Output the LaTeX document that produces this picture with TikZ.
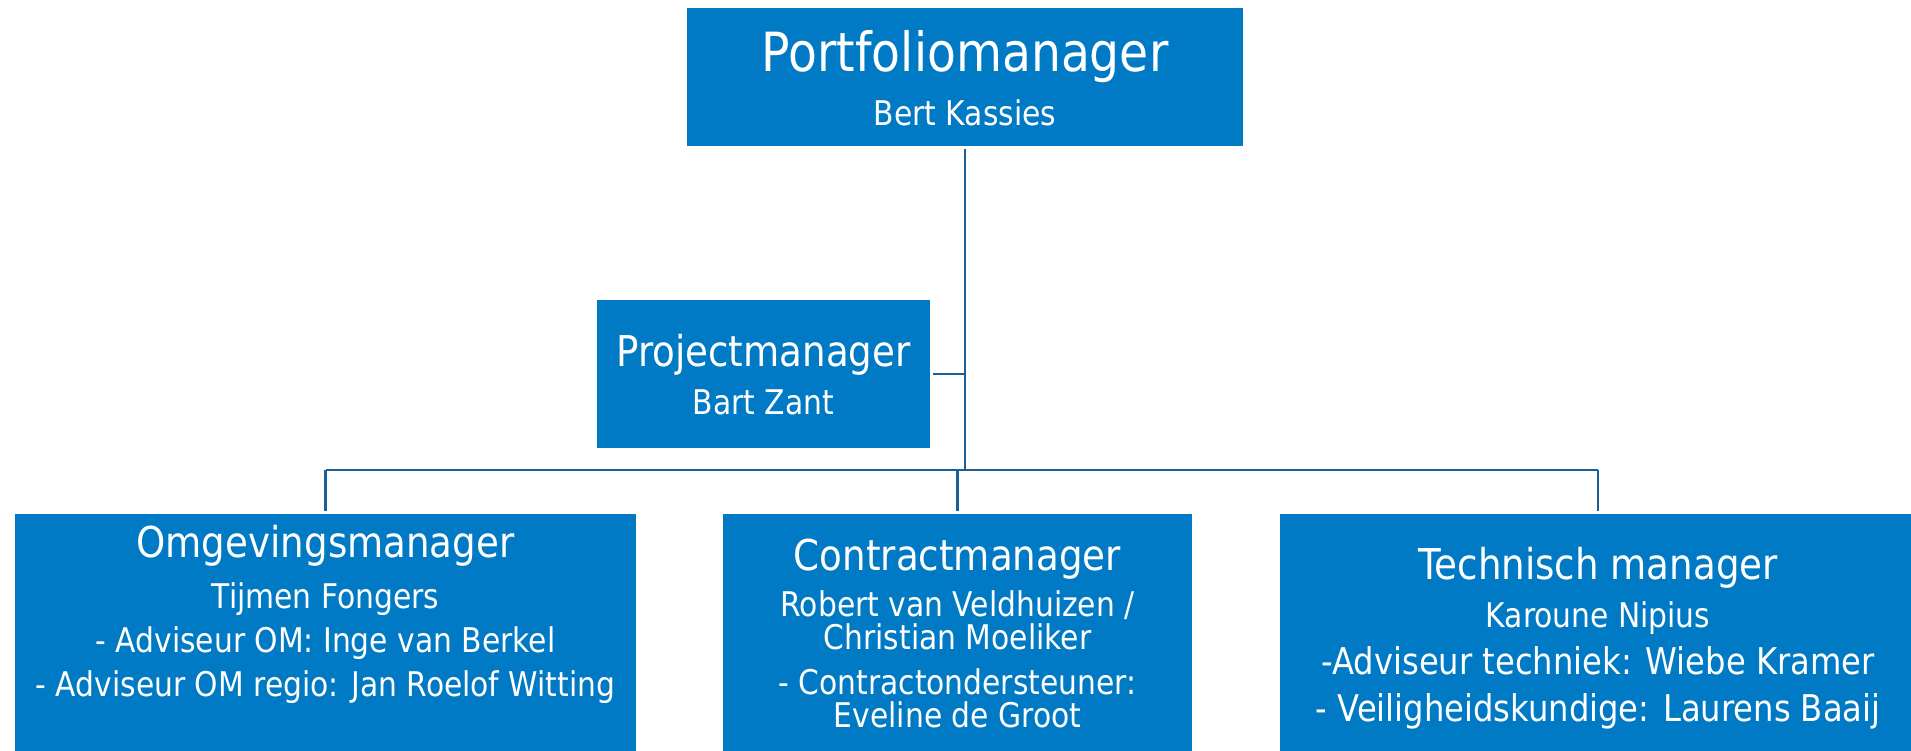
\documentclass[tikz,border=0pt]{standalone}
\usepackage{fontspec}
\setmainfont{DejaVu Sans}[FakeStretch=0.875]
\usepackage{tikz}
\usetikzlibrary{positioning}
\definecolor{BoxBlue}{HTML}{007AC4}
\definecolor{LineBlue}{HTML}{1A5F96}

\begin{document}
\begin{tikzpicture}[x=1pt,y=-1pt,
    orgbox/.style={fill=BoxBlue,draw=none,inner sep=0pt,outer sep=3pt},
    rolename/.style={text=white,inner sep=0pt,anchor=base,align=center},
    bigtitle/.style={rolename,font=\fontsize{54}{60}\selectfont},
    subtitle/.style={rolename,font=\fontsize{42.5}{48}\selectfont},
    people/.style={rolename,font=\fontsize{34}{44}\selectfont},
    orgline/.style={LineBlue,line width=2.5pt}]
  \useasboundingbox (0,0) rectangle (1911,750);
  \clip (0,0) rectangle (1911,750);

  % Top: portfolio manager
  \node[orgbox,minimum width=556pt,minimum height=138pt] (pf) at (965,77) {};
  \node[bigtitle] (pf-title) at (965,71) {Portfoliomanager};
  \node[people] (pf-name) at (965,125) {Bert Kassies};

  % Project manager beside the trunk
  \node[orgbox,minimum width=333pt,minimum height=148pt] (pm) at (763.5,374) {};
  \node[subtitle] (pm-title) at (763.5,366) {Projectmanager};
  \node[people] (pm-name) at (763.5,414) {Bart Zant};

  % Bottom row (base = last line)
  \node[orgbox,minimum width=621pt,minimum height=300pt] (om) at (325.5,664) {};
  \node[subtitle] (om-title) at (325.5,557) {Omgevingsmanager};
  \node[people] (om-names) at (325.5,696) {Tijmen Fongers\\- Adviseur OM: Inge van Berkel\\- Adviseur OM regio: Jan Roelof Witting};

  \node[orgbox,minimum width=469pt,minimum height=300pt] (cm) at (957.5,664) {};
  \node[subtitle] (cm-title) at (957.5,570) {Contractmanager};
  \node[people,font=\fontsize{34}{33}\selectfont] (cm-names) at (957.5,727) {Robert van Veldhuizen /\\Christian Moeliker\\[12pt]- Contractondersteuner:\\Eveline de Groot};

  \node[orgbox,minimum width=636pt,minimum height=300pt] (tm) at (1598,664) {};
  \node[subtitle] (tm-title) at (1598,579) {Technisch manager};
  \node[people,font=\fontsize{36.8}{47}\selectfont] (tm-names) at (1598,721) {{\fontsize{34}{47}\selectfont Karoune Nipius}\\-Adviseur techniek: Wiebe Kramer\\- Veiligheidskundige: Laurens Baaij};

  % Connectors
  \coordinate (bus) at (965,470);
  \draw[orgline] (pf.south) -- (bus);
  \draw[orgline] (pm.east) -- (pm.east -| bus);
  \draw[orgline] (om.north |- bus) -- (tm.north |- bus);
  \draw[orgline] (om.north |- bus) -- (om.north);
  \draw[orgline] (cm.north |- bus) -- (cm.north);
  \draw[orgline] (tm.north |- bus) -- (tm.north);
\end{tikzpicture}
\end{document}
